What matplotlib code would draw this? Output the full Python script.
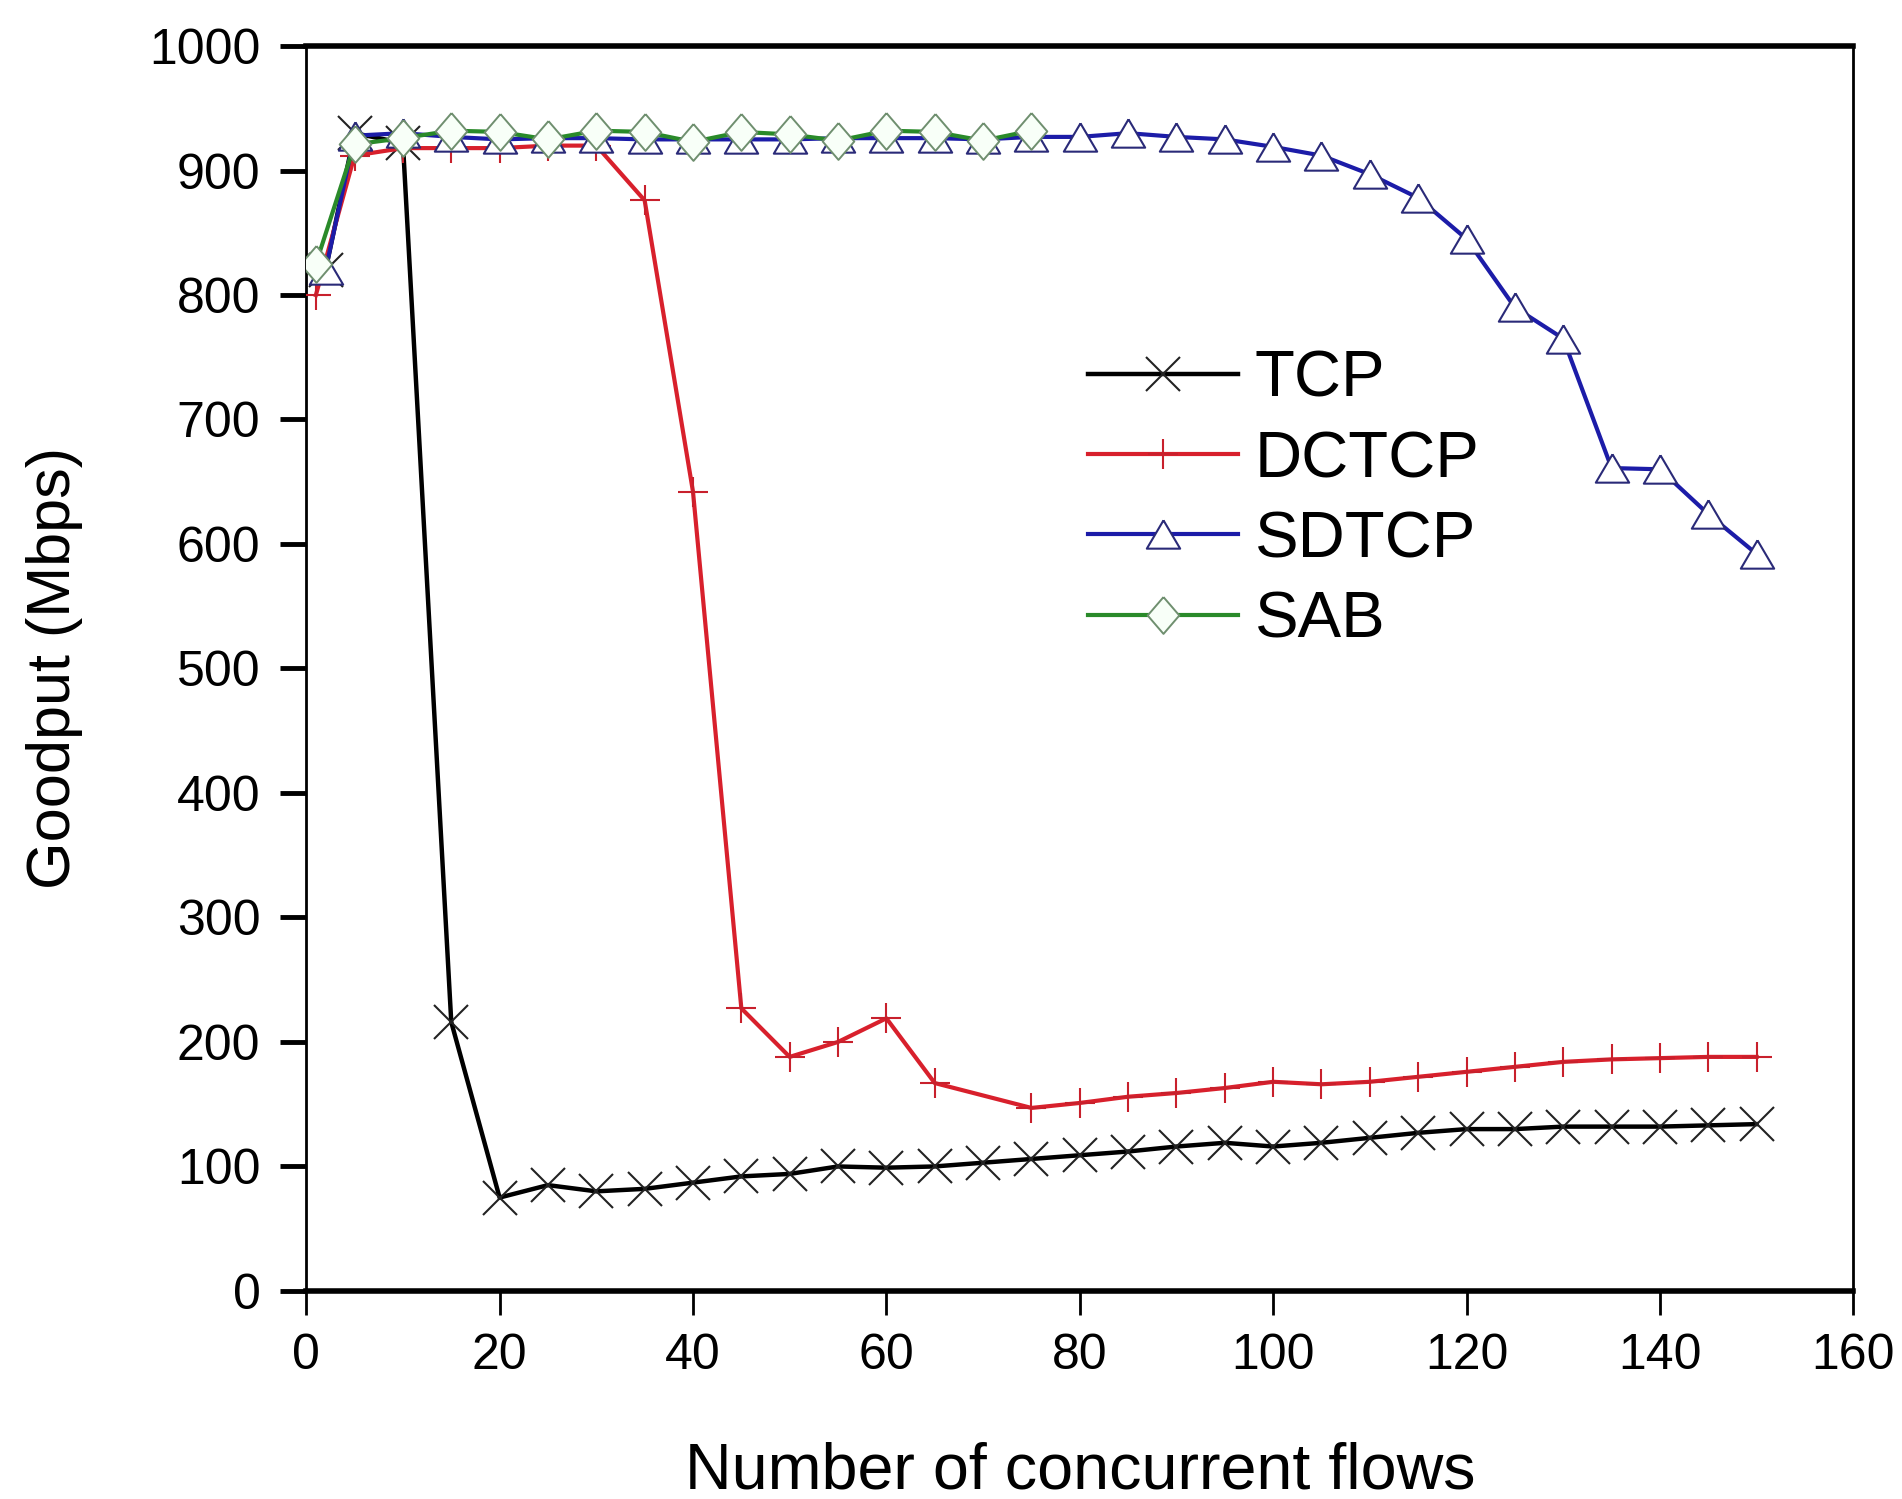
import numpy as np
import matplotlib
matplotlib.use("Agg")
import matplotlib.pyplot as plt

plt.rcParams['font.family'] = ['Liberation Sans', 'DejaVu Sans']

# data
x_tcp = [2, 5, 10, 15, 20, 25, 30, 35, 40, 45, 50, 55, 60, 65, 70, 75,
         80, 85, 90, 95, 100, 105, 110, 115, 120, 125, 130, 135, 140, 145, 150]
tcp = [820, 930, 922, 216, 75, 85, 80, 82, 87, 92, 94, 100, 99, 100, 103, 106,
       109, 112, 116, 119, 116, 119, 123, 127, 130, 130, 132, 132, 132, 133, 134]

x_dctcp = [1, 5, 10, 15, 20, 25, 30, 35, 40, 45, 50, 55, 60, 65, 75,
           80, 85, 90, 95, 100, 105, 110, 115, 120, 125, 130, 135, 140, 145, 150]
dctcp = [800, 912, 918, 918, 918, 920, 920, 876, 642, 227, 188, 200, 219, 167, 147,
         151, 156, 159, 163, 168, 166, 168, 172, 176, 180, 184, 186, 187, 188, 188]

x_sdtcp = [2, 5, 10, 15, 20, 25, 30, 35, 40, 45, 50, 55, 60, 65, 70, 75,
           80, 85, 90, 95, 100, 105, 110, 115, 120, 125, 130, 135, 140, 145, 150]
sdtcp = [820, 928, 930, 927, 925, 926, 926, 925, 925, 925, 925, 926, 926, 926, 925, 927,
         927, 930, 927, 925, 919, 912, 897, 878, 845, 790, 765, 661, 660, 624, 592]

x_sab = [1, 5, 10, 15, 20, 25, 30, 35, 40, 45, 50, 55, 60, 65, 70, 75]
sab = [825, 921, 926, 932, 931, 925, 932, 931, 923, 931, 929, 924, 932, 931, 924, 932]

xticks = [0, 20, 40, 60, 80, 100, 120, 140, 160]
yticks = [0, 100, 200, 300, 400, 500, 600, 700, 800, 900, 1000]

# wide triangle and tall diamond like the original markers
tri = [(0, 0.85), (-1, -0.85), (1, -0.85), (0, 0.85)]
dia = [(0, 1), (0.86, 0), (0, -1), (-0.86, 0), (0, 1)]

fig = plt.figure(figsize=(19.02, 14.99), dpi=100)
ax = fig.add_axes([0.161, 0.1388, 0.8134, 0.8305])

ax.plot(x_tcp, tcp, color='black', lw=3.2, marker='x', ms=24, mew=1.5,
        mec='#222222', label='TCP', zorder=3)
ax.plot(x_dctcp, dctcp, color='#d8202c', lw=3.0, marker='+', ms=22, mew=1.5,
        mec='#c8202c', label='DCTCP', zorder=4)
ax.plot(x_sdtcp, sdtcp, color='#1c1ca8', lw=3.0, marker=tri, ms=24, mew=1.5,
        mfc='white', mec='#2a2a78', label='SDTCP', zorder=5)
ax.plot(x_sab, sab, color='#2a8a2a', lw=3.0, marker=dia, ms=26.5, mew=1.4,
        mfc='#f8fff8', mec='#6f8f6f', label='SAB', zorder=6)

ax.set_xlim(0, 160)
ax.set_ylim(0, 1000)
ax.set_xticks(xticks)
ax.set_yticks(yticks)

ax.spines['top'].set_linewidth(4)
ax.spines['bottom'].set_linewidth(4)
ax.spines['left'].set_linewidth(2)
ax.spines['right'].set_linewidth(2)

ax.tick_params(axis='x', direction='out', length=17, width=2, pad=13,
               labelsize=36, top=False)
ax.tick_params(axis='y', direction='out', length=19, width=3.5, pad=14,
               labelsize=36, right=False)

ax.set_xlabel('Number of concurrent flows', fontsize=46.5)
ax.set_ylabel('Goodput (Mbps)', fontsize=44)
ax.xaxis.set_label_coords(0.5, -0.121)
ax.yaxis.set_label_coords(-0.144, 0.5)

ax.legend(loc='upper left', bbox_to_anchor=(0.5055, 0.756), frameon=False,
          fontsize=47, handlelength=2.3, handletextpad=0.25, labelspacing=0.31,
          borderpad=0, borderaxespad=0)

fig.savefig('out.png', dpi=100)
